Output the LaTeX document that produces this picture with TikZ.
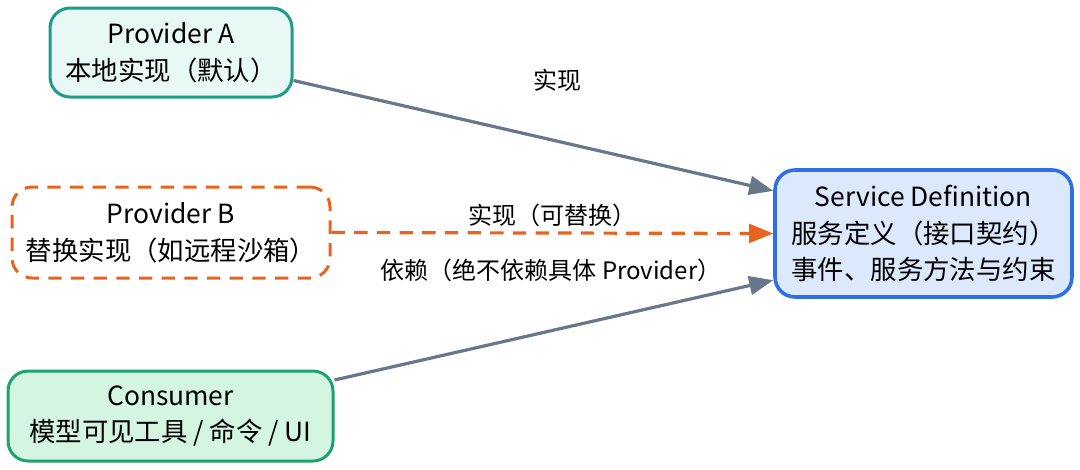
\documentclass[tikz,border=0pt]{standalone}
\usepackage{fontspec}
\setmainfont{Noto Sans CJK SC}
\usetikzlibrary{arrows.meta}
\definecolor{tealB}{HTML}{1E9C8A}
\definecolor{tealF}{HTML}{E8F8F5}
\definecolor{orangeB}{HTML}{E8641E}
\definecolor{greenB}{HTML}{1FA36D}
\definecolor{greenF}{HTML}{D4F5E2}
\definecolor{blueB}{HTML}{2F6FE4}
\definecolor{blueF}{HTML}{DCE8FC}
\definecolor{edgeG}{HTML}{687789}
\tikzset{
  box/.style={rounded corners=15pt, line width=2.25pt, align=center,
    font=\fontsize{19.8}{27.5}\selectfont, inner sep=0pt},
  elabel/.style={font=\fontsize{18}{20}\selectfont, inner sep=1pt},
  conn/.style={line width=2.4pt, edgeG, -{Triangle[length=18pt,width=14pt]}},
  dconn/.style={line width=2.4pt, orangeB, dash pattern=on 10pt off 7pt, -{Triangle[length=18pt,width=14pt]}}
}
\begin{document}
\begin{tikzpicture}[x=0.75pt,y=-0.75pt]
\useasboundingbox (0,0) rectangle (1080,469);
\node[box, draw=tealB, fill=tealF, minimum width=181.5pt, minimum height=66.75pt] (A) at (171,52.5) {Provider A\\本地实现（默认）};
\node[box, draw=orangeB, fill=white, dash pattern=on 10pt off 7pt, minimum width=238.5pt, minimum height=68.25pt] (B) at (171,232.5) {Provider B\\替换实现（如远程沙箱）};
\node[box, draw=greenB, fill=greenF, minimum width=243.75pt, minimum height=67.5pt] (C) at (170.5,416) {Consumer\\模型可见工具 / 命令 / UI};
\node[box, draw=blueB, fill=blueF, line width=2.7pt, minimum width=222.75pt, minimum height=95.25pt] (SD) at (923.5,233.5) {Service Definition\\服务定义（接口契约）\\事件、服务方法与约束};
\draw[conn] ([yshift=-21pt]A.east) -- ([yshift=32pt]SD.west);
\draw[dconn] (B.east) -- (SD.west);
\draw[conn] ([yshift=27pt]C.east) -- ([yshift=-35pt]SD.west);
\node[elabel] (l1) at (557,80) {实现};
\node[elabel] (l2) at (552,215) {实现（可替换）};
\node[elabel] (l3) at (551,270) {依赖（绝不依赖具体 Provider）};
\end{tikzpicture}
\end{document}
